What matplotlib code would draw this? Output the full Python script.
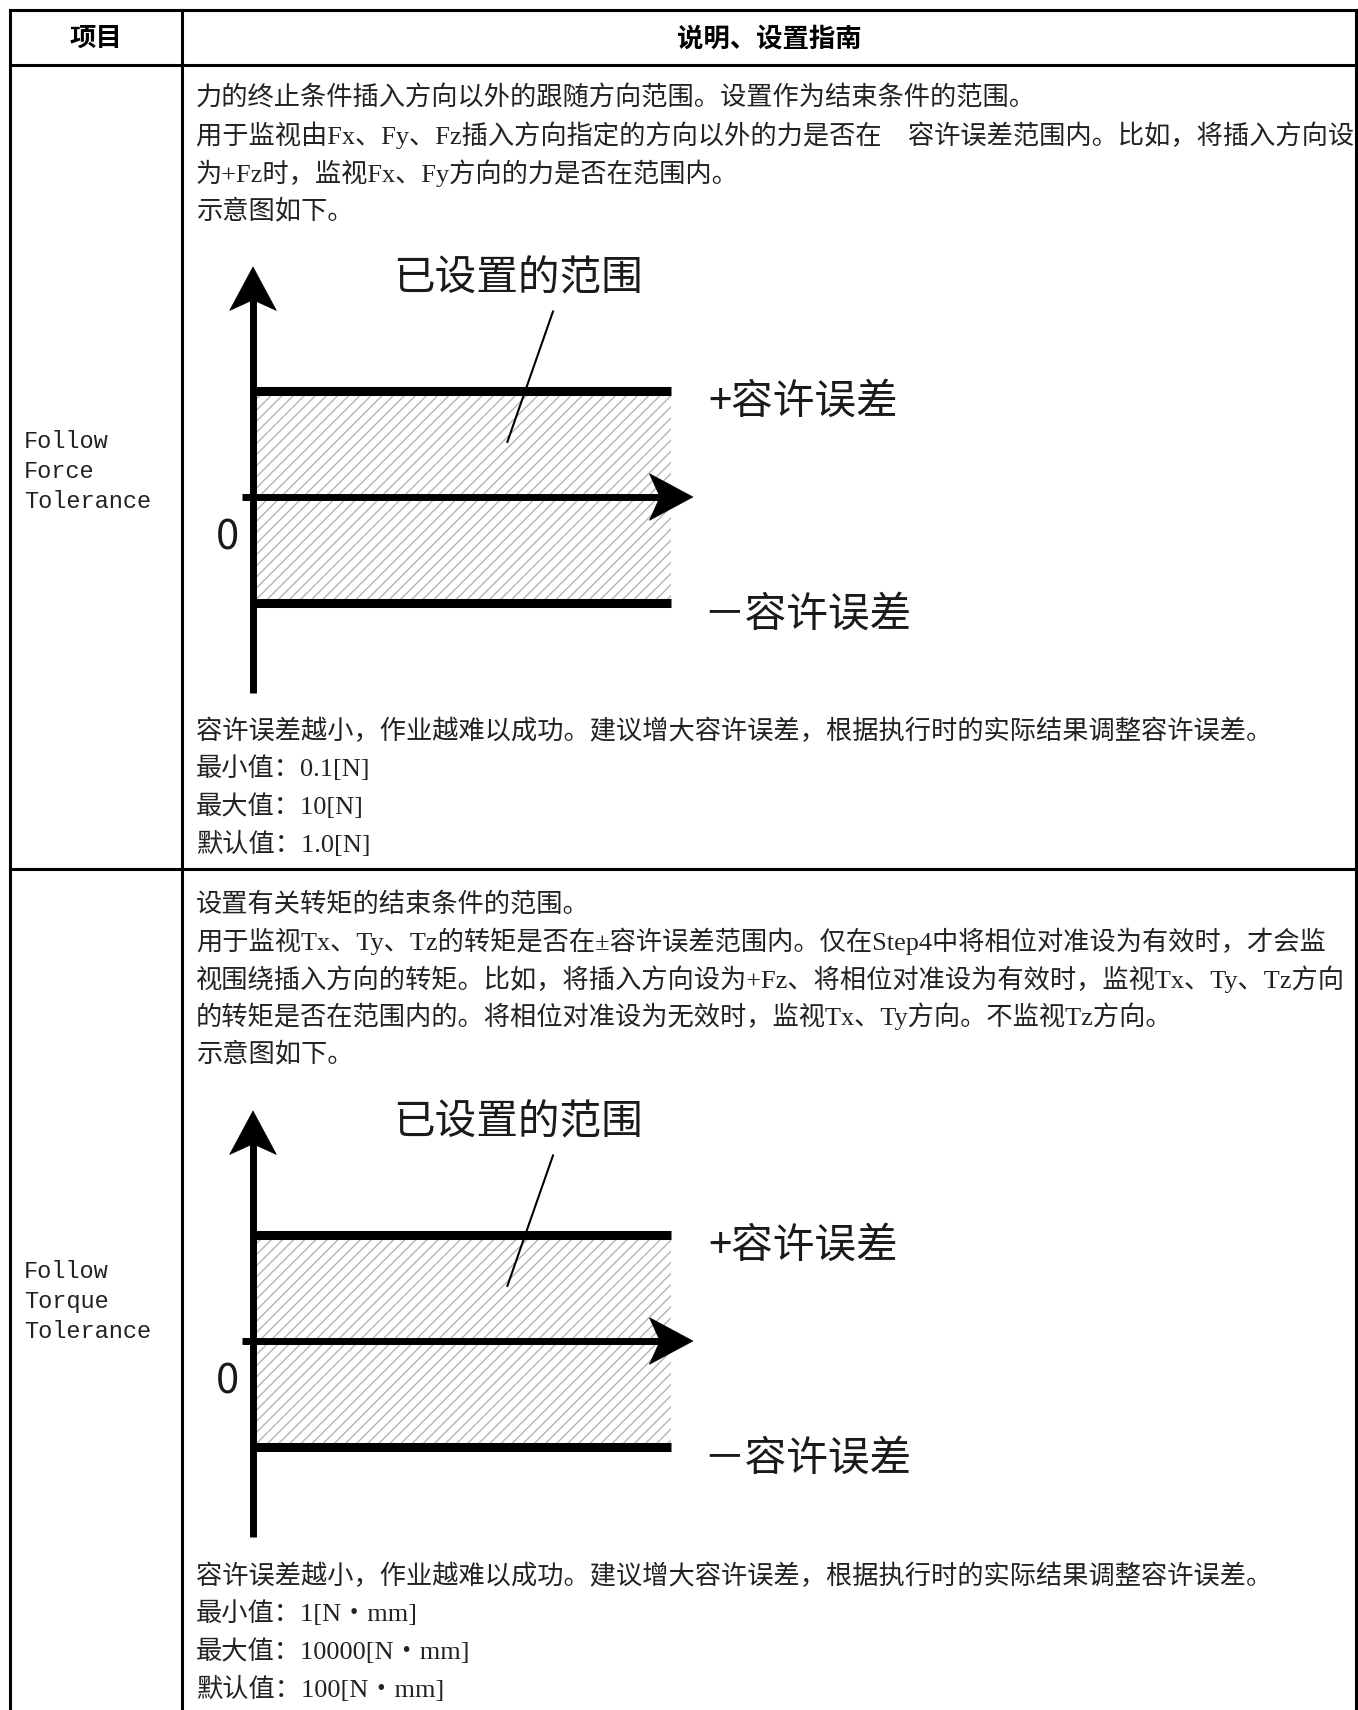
import matplotlib
matplotlib.use('Agg')
import matplotlib.pyplot as plt
from matplotlib.patches import Polygon
import numpy as np

# ---- table content ----
HEADERS = ["项目", "说明、设置指南"]
ITEMS = [["Follow", "Force", "Tolerance"],
         ["Follow", "Torque", "Tolerance"]]
INTRO_LINES = [
    ["力的终止条件插入方向以外的跟随方向范围。设置作为结束条件的范围。",
     "用于监视由Fx、Fy、Fz插入方向指定的方向以外的力是否在　容许误差范围内。比如，将插入方向设",
     "为+Fz时，监视Fx、Fy方向的力是否在范围内。",
     "示意图如下。"],
    ["设置有关转矩的结束条件的范围。",
     "用于监视Tx、Ty、Tz的转矩是否在±容许误差范围内。仅在Step4中将相位对准设为有效时，才会监",
     "视围绕插入方向的转矩。比如，将插入方向设为+Fz、将相位对准设为有效时，监视Tx、Ty、Tz方向",
     "的转矩是否在范围内的。将相位对准设为无效时，监视Tx、Ty方向。不监视Tz方向。",
     "示意图如下。"],
]
NOTE = "容许误差越小，作业越难以成功。建议增大容许误差，根据执行时的实际结果调整容许误差。"
MIN_VALUES = ["0.1[N]", "1[N・mm]"]
MAX_VALUES = ["10[N]", "10000[N・mm]"]
DEFAULT_VALUES = ["1.0[N]", "100[N・mm]"]

# diagram content (units: tolerance = 1)
TOLERANCE = 1.0
RANGE_LABEL = "已设置的范围"
PLUS_LABEL = "+容许误差"
MINUS_LABEL = "－容许误差"
ZERO_LABEL = "0"

# ---- layout (pixels) ----
W, H = 1358, 1710
COL_EDGES = [10, 182, 1356]
ROW_EDGES = [10, 65.5, 869, 1725]
INTRO_Y = [98, 904]
DIAGRAM_ZERO_Y = [497, 1341]
NOTE_Y = [731, 1576]
LINE_STEP = 37.5
TEXT_X = 196
UNIT = 106          # pixels per tolerance unit in the diagram
AXIS_X = 253

BODY_FONT = dict(family=['Liberation Serif', 'Noto Sans CJK SC'], fontsize=18.9, color='#222222')
DIAG_FONT = dict(family=['Noto Sans CJK SC'], fontsize=30, color='#1a1a1a')

fig = plt.figure(figsize=(W / 100, H / 100), dpi=100)
ax = fig.add_axes([0, 0, 1, 1])
ax.set_xlim(0, W)
ax.set_ylim(H, 0)
ax.axis('off')

# table grid
for y in ROW_EDGES[:-1]:
    ax.plot([COL_EDGES[0], COL_EDGES[-1]], [y, y], color='black', lw=2.2, solid_capstyle='projecting')
for x in COL_EDGES:
    ax.plot([x, x], [ROW_EDGES[0], H], color='black', lw=2.2, solid_capstyle='projecting')

# header
hy = (ROW_EDGES[0] + ROW_EDGES[1]) / 2 + 1
for i, h in enumerate(HEADERS):
    ax.text((COL_EDGES[i] + COL_EDGES[i + 1]) / 2, hy, h, ha='center', va='center',
            family=['Noto Sans CJK SC'], fontsize=19, fontweight='bold')


def arrow_head(dax, tip, d):
    d = np.asarray(d, float)
    n = np.array([-d[1], d[0]])
    shape = [(0, 0), (-0.41, 0.22), (-0.31, 0), (-0.41, -0.22)]
    pts = [np.asarray(tip) + a * d + b * n for a, b in shape]
    dax.add_patch(Polygon(pts, closed=True, facecolor='black', edgecolor='black', lw=0.5, zorder=5))


def draw_diagram(y0):
    xlim, ylim = (-0.6, 6.0), (-2.0, 2.4)
    left = AXIS_X + xlim[0] * UNIT
    width = (xlim[1] - xlim[0]) * UNIT
    bottom = y0 - ylim[0] * UNIT
    height = (ylim[1] - ylim[0]) * UNIT
    dax = fig.add_axes([left / W, 1 - bottom / H, width / W, height / H])
    dax.set_xlim(*xlim)
    dax.set_ylim(*ylim)
    dax.axis('off')
    dax.patch.set_alpha(0)

    line_end = 3.94
    dax.fill_between([0, line_end], -TOLERANCE, TOLERANCE, facecolor='white',
                     edgecolor='#b4b4b4', hatch='///', linewidth=0, zorder=1)
    for lev in (TOLERANCE, -TOLERANCE):
        dax.plot([0, line_end], [lev, lev], color='black', lw=6.5, solid_capstyle='butt', zorder=3)

    # axes
    v_tip = 2.17
    dax.plot([0, 0], [-1.85, v_tip - 0.3], color='black', lw=5, solid_capstyle='butt', zorder=4)
    arrow_head(dax, (0, v_tip), (0, 1))
    h_tip = 4.15
    dax.plot([-0.1, h_tip - 0.3], [0, 0], color='black', lw=5, solid_capstyle='butt', zorder=4)
    arrow_head(dax, (h_tip, 0), (1, 0))

    dax.text(2.5, 2.055, RANGE_LABEL, ha='center', va='center', **DIAG_FONT)
    dax.plot([2.83, 2.40], [1.75, 0.52], color='black', lw=1.5, zorder=4)
    dax.text(4.3, 0.895, PLUS_LABEL, ha='left', va='center', **DIAG_FONT)
    dax.text(4.25, -1.115, MINUS_LABEL, ha='left', va='center', **DIAG_FONT)
    dax.text(-0.245, -0.385, ZERO_LABEL, ha='center', va='center', **DIAG_FONT)


for r in range(2):
    # item name in left column
    cy = (ROW_EDGES[r + 1] + ROW_EDGES[r + 2]) / 2 + 4
    n = len(ITEMS[r])
    for k, word in enumerate(ITEMS[r]):
        ax.text(24, cy + (k - (n - 1) / 2) * 30, word, ha='left', va='center',
                family=['Liberation Mono'], fontsize=17, color='#222222')
    # description
    for k, line in enumerate(INTRO_LINES[r]):
        ax.text(TEXT_X, INTRO_Y[r] + k * LINE_STEP, line, ha='left', va='center', **BODY_FONT)
    draw_diagram(DIAGRAM_ZERO_Y[r])
    tail = [NOTE, "最小值：" + MIN_VALUES[r], "最大值：" + MAX_VALUES[r], "默认值：" + DEFAULT_VALUES[r]]
    for k, line in enumerate(tail):
        ax.text(TEXT_X, NOTE_Y[r] + k * LINE_STEP, line, ha='left', va='center', **BODY_FONT)

fig.savefig('out.png', dpi=100, facecolor='white')
